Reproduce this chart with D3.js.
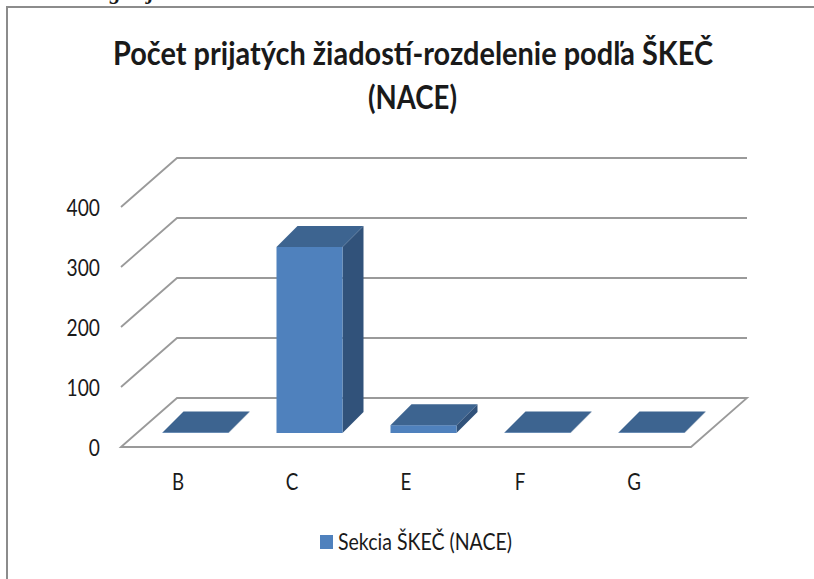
<!DOCTYPE html>
<html><head><meta charset="utf-8">
<script src="https://cdn.jsdelivr.net/npm/d3@7/dist/d3.min.js"></script>
<style>html,body{margin:0;padding:0;background:#fff}svg{display:block}text{font-family:Lato,"Open Sans",sans-serif;fill:#1a1a1a}</style>
</head><body><svg id="c" width="814" height="579"></svg>
<script>
const categories = ["B","C","E","F","G"];
const values = [1,310,13,1,1];
const yTicks = [0,100,200,300,400];
const titleLines = ["Počet prijatých  žiadostí-rozdelenie podľa ŠKEČ","(NACE)"];
const seriesName = "Sekcia ŠKEČ (NACE)";
const croppedLetters = ["g","j"];

const svg = d3.select("#c");
const x = d3.scaleBand().domain(categories).range([121,691]);
const y = d3.scaleLinear().domain([0,400]).range([447,207]);
const depthX = 56, depthY = 49;
const barFrontX = 17.5, barFrontY = 14, barDepth = 21, barW = 66;
const cFront="#4f81bd", cTop="#3d6490", cSide="#31527a", cGrid="#9a9a9a";

// squeeze a text horizontally so Lato reads like the narrower original face
function squeeze(sel,k){ sel.each(function(){ const n=d3.select(this);
  n.attr("textLength",this.getComputedTextLength()*k).attr("lengthAdjust","spacingAndGlyphs"); }); }

// descenders of the page text cropped off above the chart
svg.append("g").selectAll("text").data(croppedLetters).join("text")
  .attr("x",(d,i)=>i?148:110).attr("y",-1).attr("font-size",22).attr("font-weight",700).attr("font-style","italic")
  .style("font-family","'Liberation Serif',serif").attr("fill","#000").text(d=>d);

// frame
svg.append("path").attr("d","M7,579V7H814").attr("fill","none").attr("stroke","#8c8c8c").attr("stroke-width",2);

// gridlines + wall diagonals
const g = svg.append("g").attr("fill","none").attr("stroke",cGrid).attr("stroke-width",1.8);
yTicks.forEach(t=>{
  if(t===0) return;
  const p=d3.path(); const yy=y(t);
  p.moveTo(x.range()[0],yy); p.lineTo(x.range()[0]+depthX,yy-depthY); p.lineTo(x.range()[1]+depthX,yy-depthY);
  g.append("path").attr("d",p.toString());
});
// floor
const f=d3.path(), y0=y(0), xa=x.range()[0], xb=x.range()[1];
f.moveTo(xa,y0); f.lineTo(xa+depthX,y0-depthY); f.lineTo(xb+depthX,y0-depthY); f.lineTo(xb,y0); f.closePath();
g.append("path").attr("d",f.toString()).attr("fill","#fff");

// bars
const bars = svg.append("g").selectAll("g").data(categories.map((c,i)=>({c,v:values[i]}))).join("g");
const left = d=>x(d.c)+x.bandwidth()/2+barFrontX-barW/2;
const base = y0-barFrontY;
const top_ = d=>base-(y0-y(d.v));
bars.append("path").attr("fill",cSide).attr("d",d=>{
  const r=left(d)+barW, t=top_(d);
  return `M${r},${base}L${r+barDepth},${base-barDepth}L${r+barDepth},${t-barDepth}L${r},${t}Z`;});
bars.append("rect").attr("fill",cFront).attr("x",left).attr("width",barW)
  .attr("y",top_).attr("height",d=>base-top_(d));
bars.append("path").attr("fill",cTop).attr("d",d=>{
  const l=left(d), t=top_(d);
  return `M${l},${t}L${l+barDepth},${t-barDepth}L${l+barW+barDepth},${t-barDepth}L${l+barW},${t}Z`;});

// axis labels
svg.append("g").selectAll("text").data(yTicks).join("text")
  .attr("x",100).attr("y",d=>y(d)+9).attr("text-anchor","end").attr("font-size",24).text(d=>d).call(squeeze,0.8);
svg.append("g").selectAll("text").data(categories).join("text")
  .attr("x",d=>x(d)+x.bandwidth()/2).attr("y",490).attr("text-anchor","middle").attr("font-size",24).text(d=>d).call(squeeze,0.78);

// title
const tt=[{s:titleLines[0],cx:413,yy:65,w:600},{s:titleLines[1],cx:412.5,yy:109,w:89}];
svg.append("g").selectAll("text").data(tt).join("text")
  .attr("x",d=>d.cx).attr("y",d=>d.yy).attr("text-anchor","middle").attr("font-size",33).attr("font-weight",700)
  .attr("fill","#000").attr("textLength",d=>d.w).attr("lengthAdjust","spacingAndGlyphs").text(d=>d.s);

// legend
svg.append("rect").attr("x",320).attr("y",535).attr("width",13).attr("height",14).attr("fill",cFront);
svg.append("text").attr("x",338).attr("y",550).attr("font-size",23)
  .attr("textLength",174).attr("lengthAdjust","spacingAndGlyphs").text(seriesName);
</script></body></html>
